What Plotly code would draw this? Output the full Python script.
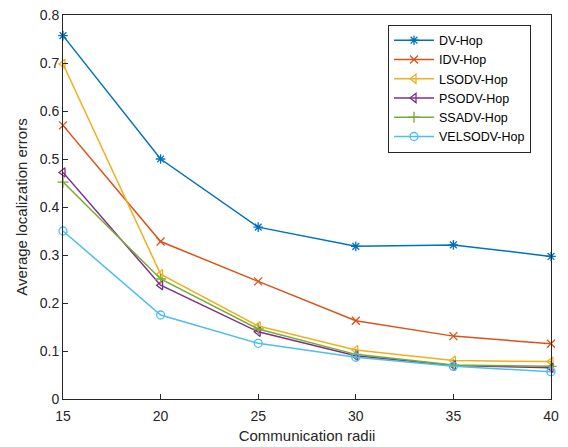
import plotly.graph_objects as go

radii = [15, 20, 25, 30, 35, 40]
dv_hop = [0.757, 0.500, 0.358, 0.318, 0.321, 0.297]
idv_hop = [0.570, 0.328, 0.245, 0.163, 0.131, 0.115]
lsodv_hop = [0.698, 0.260, 0.152, 0.102, 0.080, 0.078]
psodv_hop = [0.472, 0.237, 0.140, 0.090, 0.070, 0.065]
ssadv_hop = [0.452, 0.250, 0.146, 0.093, 0.071, 0.068]
velsodv_hop = [0.350, 0.175, 0.116, 0.087, 0.068, 0.057]

series = [
    ("DV-Hop", dv_hop, "#0072BD", "asterisk-open"),
    ("IDV-Hop", idv_hop, "#D95319", "x-thin-open"),
    ("LSODV-Hop", lsodv_hop, "#EDB120", "triangle-left-open"),
    ("PSODV-Hop", psodv_hop, "#7E2F8E", "triangle-left-open"),
    ("SSADV-Hop", ssadv_hop, "#77AC30", "cross-thin-open"),
    ("VELSODV-Hop", velsodv_hop, "#4DBEEE", "circle-open"),
]

fig = go.Figure()
for name, vals, color, sym in series:
    fig.add_trace(go.Scatter(
        x=radii, y=vals, name=name, mode="lines+markers",
        line=dict(color=color, width=1.5),
        marker=dict(symbol=sym, size=8, color=color, line=dict(color=color, width=1.3)),
        cliponaxis=False,
    ))

axis_common = dict(
    showline=True, linecolor="#262626", linewidth=1, mirror=True,
    ticks="inside", ticklen=5, tickcolor="#262626",
    showgrid=False, zeroline=False,
    tickfont=dict(family="Liberation Sans, Arial", size=14, color="#262626"),
)

fig.update_layout(
    width=568, height=447,
    margin=dict(l=63, r=17, t=15, b=48),
    paper_bgcolor="white", plot_bgcolor="white",
    font=dict(family="Liberation Sans, Arial", size=13, color="#262626"),
    xaxis=dict(range=[15, 40], tickvals=radii, ticktext=[str(r) for r in radii],
               title=dict(text="Communication radii", font=dict(size=15), standoff=7),
               ticklabelstandoff=4, automargin=False, **axis_common),
    yaxis=dict(range=[0, 0.8], tickvals=[0, 0.1, 0.2, 0.3, 0.4, 0.5, 0.6, 0.7, 0.8],
               ticktext=["0", "0.1", "0.2", "0.3", "0.4", "0.5", "0.6", "0.7", "0.8"],
               title=dict(text="Average localization errors", font=dict(size=15), standoff=8),
               automargin=False, **axis_common),
    legend=dict(x=0.666, y=0.975, xanchor="left", yanchor="top",
                bordercolor="#262626", borderwidth=1, bgcolor="white",
                font=dict(size=12.5, color="#000000"), tracegroupgap=0,
                itemwidth=40),
    showlegend=True,
)

fig.write_html("out.html")
